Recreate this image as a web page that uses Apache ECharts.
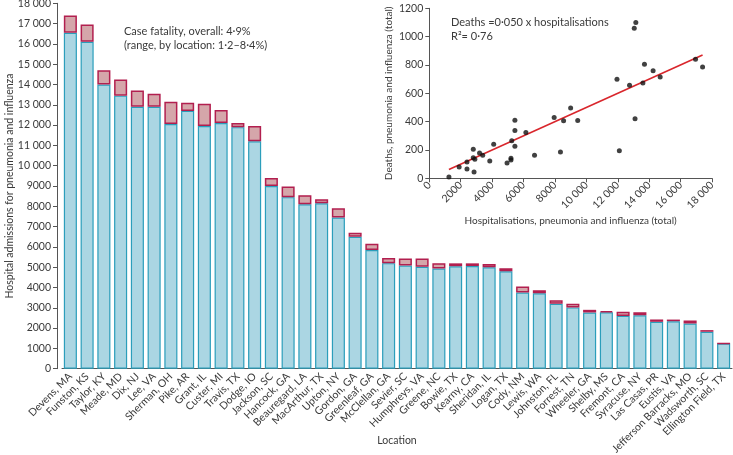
<!DOCTYPE html>
<html>
<head>
<meta charset="utf-8">
<script src="https://cdn.jsdelivr.net/npm/echarts@6/dist/echarts.min.js"></script>
<style>
html,body{margin:0;padding:0;background:#fff;}
#chart{width:733px;height:455px;}
</style>
</head>
<body>
<div id="chart"></div>
<script>
var locations = ["Devens, MA","Funston, KS","Taylor, KY","Meade, MD","Dix, NJ","Lee, VA","Sherman, OH","Pike, AR","Grant, IL","Custer, MI","Travis, TX","Dodge, IO","Jackson, SC","Hancock, GA","Beauregard, LA","MacArthur, TX","Upton, NY","Gordon, GA","Greenleaf, GA","McClellan, GA","Sevier, SC","Humphreys, VA","Greene, NC","Bowie, TX","Kearny, CA","Sheridan, IL","Logan, TX","Cody, NM","Lewis, WA","Johnston, FL","Forrest, TN","Wheeler, GA","Shelby, MS","Fremont, CA","Syracuse, NY","Las Casas, PR","Eustis, VA","Jefferson Barracks, MO","Wadsworth, SC","Ellington Field, TX"];
var survivors = [16550,16100,14000,13450,12900,12900,12050,12700,11950,12100,11900,11200,9000,8450,8100,8150,7450,6500,5850,5200,5080,5020,4930,5050,5060,5000,4800,3750,3720,3200,3020,2770,2780,2600,2630,2310,2340,2230,1820,1240];
var deaths = [850,850,700,800,800,650,1100,400,1100,650,200,750,400,520,450,200,450,200,300,250,350,410,270,140,130,160,150,300,150,170,180,130,60,210,150,115,80,150,80,10];
var scatterX = [1250,1900,2400,2400,2800,2800,2850,2900,3200,3400,3850,4100,4950,5200,5200,5250,5450,5450,5450,6150,6700,7950,8350,8550,9000,9450,11950,12100,12750,13050,13150,13100,13600,13700,14250,14700,16950,17400];
var scatterY = [10,80,115,65,205,145,45,135,178,162,122,240,108,142,130,265,410,338,226,323,162,430,186,406,496,408,700,195,656,1060,1100,420,672,805,760,715,840,785];
var fitLine = [[1250,62],[17400,870]];
var mainYTicks = {min:0, max:18000, interval:1000};
var insetXTicks = {min:0, max:18000, interval:2000};
var insetYTicks = {min:0, max:1200, interval:200};

function fmt(v){ return v >= 10000 ? String(v).replace(/(\d+)(\d{3})$/, '$1 $2') : String(v); }

var FONT = 'Lato';
var TXT = '#3a3a3a';
var AX = '#555';

var chart = echarts.init(document.getElementById('chart'));
chart.setOption({
  animation:false,
  textStyle:{fontFamily:FONT},
  title:[
    {text:'Case fatality, overall: 4·9%\n(range, by location: 1·2–8·4%)', left:119, top:19,
     textStyle:{fontSize:11, fontWeight:'normal', color:TXT, fontFamily:FONT, lineHeight:14}},
    {text:'Deaths =0·050 x hospitalisations\nR²= 0·76', left:446, top:10,
     textStyle:{fontSize:11, fontWeight:'normal', color:TXT, fontFamily:FONT, lineHeight:14}}
  ],
  grid:[
    {left:62, right:1, top:3.3, bottom:86.3, containLabel:false, outerBoundsMode:'none'},
    {left:429.3, right:21, top:8.3, bottom:276.7, containLabel:false, outerBoundsMode:'none'}
  ],
  xAxis:[
    {type:'category', gridIndex:0, data:locations, boundaryGap:true,
     name:'Location', nameLocation:'middle', nameGap:66, nameMoveOverlap:false,
     nameTextStyle:{fontSize:10.5, color:TXT, fontFamily:FONT},
     axisLine:{lineStyle:{color:AX, width:1}},
     axisTick:{interval:0, length:5, lineStyle:{color:AX}},
     axisLabel:{interval:0, rotate:45, fontSize:10.5, color:TXT, margin:6, fontFamily:FONT}},
    {type:'value', gridIndex:1, min:insetXTicks.min, max:insetXTicks.max, interval:insetXTicks.interval,
     name:'Hospitalisations, pneumonia and influenza (total)', nameLocation:'middle', nameGap:37, nameMoveOverlap:false,
     nameTextStyle:{fontSize:10, color:TXT, fontFamily:FONT},
     splitLine:{show:false},
     axisLine:{show:true, lineStyle:{color:AX}},
     axisTick:{show:true, length:4, lineStyle:{color:AX}},
     axisLabel:{rotate:45, fontSize:10.5, color:TXT, margin:5, formatter:fmt, fontFamily:FONT}}
  ],
  yAxis:[
    {type:'value', gridIndex:0, min:mainYTicks.min, max:mainYTicks.max, interval:mainYTicks.interval, offset:5,
     name:'Hospital admissions for pneumonia and influenza', nameLocation:'middle', nameGap:42, nameMoveOverlap:false,
     nameTextStyle:{fontSize:10.5, color:TXT, fontFamily:FONT},
     splitLine:{show:false},
     axisLine:{show:true, lineStyle:{color:AX}},
     axisTick:{show:true, length:4, lineStyle:{color:AX}},
     axisLabel:{fontSize:10.5, color:TXT, margin:6, formatter:fmt, fontFamily:FONT}},
    {type:'value', gridIndex:1, min:insetYTicks.min, max:insetYTicks.max, interval:insetYTicks.interval,
     name:'Deaths, pneumonia and influenza (total)', nameLocation:'middle', nameGap:36, nameMoveOverlap:false,
     nameTextStyle:{fontSize:10, color:TXT, fontFamily:FONT},
     splitLine:{show:false},
     axisLine:{show:true, lineStyle:{color:AX}},
     axisTick:{show:true, length:4, lineStyle:{color:AX}},
     axisLabel:{fontSize:10.5, color:TXT, margin:6, formatter:function(v){return String(v);}, fontFamily:FONT}}
  ],
  series:[
    {type:'bar', xAxisIndex:0, yAxisIndex:0, stack:'a', data:survivors, barCategoryGap:'22%',
     itemStyle:{color:'#abd6e3', borderColor:'#2b9ebb', borderWidth:1.2}},
    {type:'bar', xAxisIndex:0, yAxisIndex:0, stack:'a', data:deaths, barCategoryGap:'22%',
     itemStyle:{color:'#d5a6aa', borderColor:'#b21f4f', borderWidth:1.5}},
    {type:'line', xAxisIndex:1, yAxisIndex:1, data:fitLine, symbol:'none',
     lineStyle:{color:'#d9262c', width:1.6}, z:3},
    {type:'scatter', xAxisIndex:1, yAxisIndex:1, symbolSize:5,
     data:scatterX.map(function(x,i){return [x, scatterY[i]];}),
     itemStyle:{color:'#111'}, z:4}
  ]
});
</script>
</body>
</html>
